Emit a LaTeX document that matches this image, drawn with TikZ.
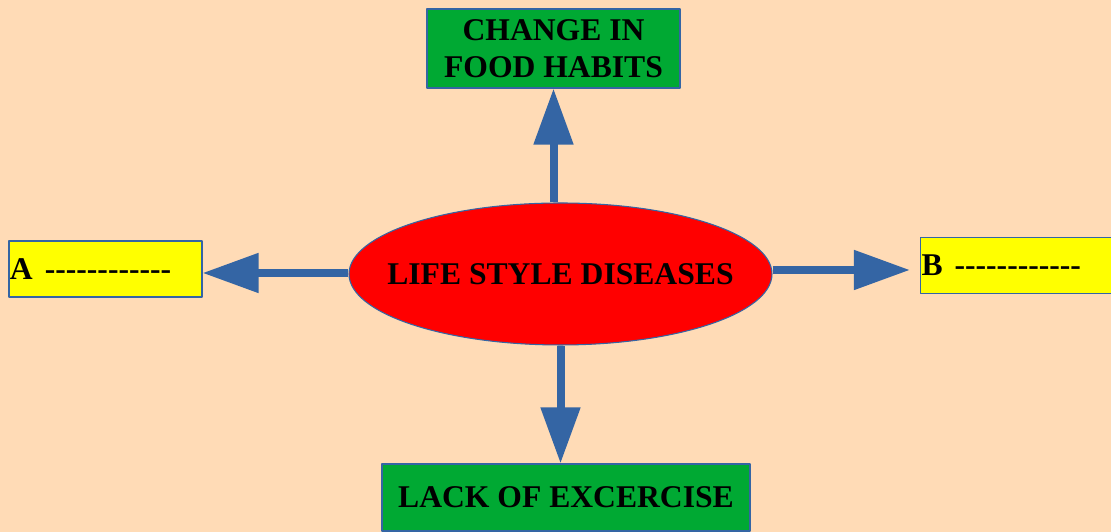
\documentclass[tikz,border=0pt]{standalone}
\usepackage{fontspec}
\setmainfont{Liberation Serif}
\usetikzlibrary{arrows.meta, shapes.geometric}

\newcommand{\dashrow}{\foreach \i in {1,...,12}{-\kern0pt}}

\begin{document}
\begin{tikzpicture}[line cap=round, line join=round]

    \colorlet{mypeach}{rgb,255:red,255;green,219;blue,182}
    \definecolor{mygreen}{HTML}{00A933}
    \definecolor{myblue}{HTML}{3465A4}
    \definecolor{myyellow}{HTML}{FFFF00}

    \useasboundingbox[fill=mypeach] (0,0) rectangle (11.11,5.32);

    \tikzset{
      every node/.style={font=\fontsize{9}{10.5}\selectfont\bfseries},
      gbox/.style={
        draw=myblue, fill=mygreen, line width=0.3pt,
        rectangle, inner sep=0pt, align=center
      },
      ybox/.style={
        draw=myblue, fill=myyellow, line width=0.3pt,
        rectangle, inner xsep=0.01cm, inner ysep=0pt,
        text width=1.91cm, minimum height=0.56cm, align=left
      },
      fatarrow/.style={
        draw=myblue, line width=0.08cm, line cap=butt,
        -{Triangle[length=0.56cm, width=0.38cm]}
      }
    }

    \node[draw=myblue, fill=red, line width=0.3pt, ellipse,
          minimum width=4.23cm, minimum height=1.42cm, inner sep=0pt]
      (diseases) at (5.605,2.58) {\makebox[0pt]{LIFE STYLE DISEASES}};

    \node[gbox, minimum width=2.53cm, minimum height=0.79cm]
      (food) at (5.535,4.835) {\raisebox{-0.02cm}{CHANGE IN}\\\raisebox{-0.02cm}{FOOD HABITS}};
    \node[gbox, minimum width=3.68cm, minimum height=0.67cm]
      (exercise) at (5.66,0.345) {LACK OF EXCERCISE};

    \node[ybox] (boxa) at (1.055,2.63) {A\hspace{0.12cm}\dashrow};
    \node[ybox] (boxb) at (10.17,2.665) {B\hspace{0.12cm}\dashrow};

    \draw[fatarrow] (food.south |- diseases.north) -- (food.south);
    \draw[fatarrow] (diseases.south) -- (diseases.south |- exercise.north);
    \draw[fatarrow] ([yshift=0.01cm]diseases.west) -- ([yshift=0.01cm]diseases.west -| boxa.east);
    \draw[fatarrow, shorten >=0.1cm] ([yshift=0.04cm]diseases.east) -- ([yshift=0.04cm]diseases.east -| boxb.west);

  \end{tikzpicture}
\end{document}
